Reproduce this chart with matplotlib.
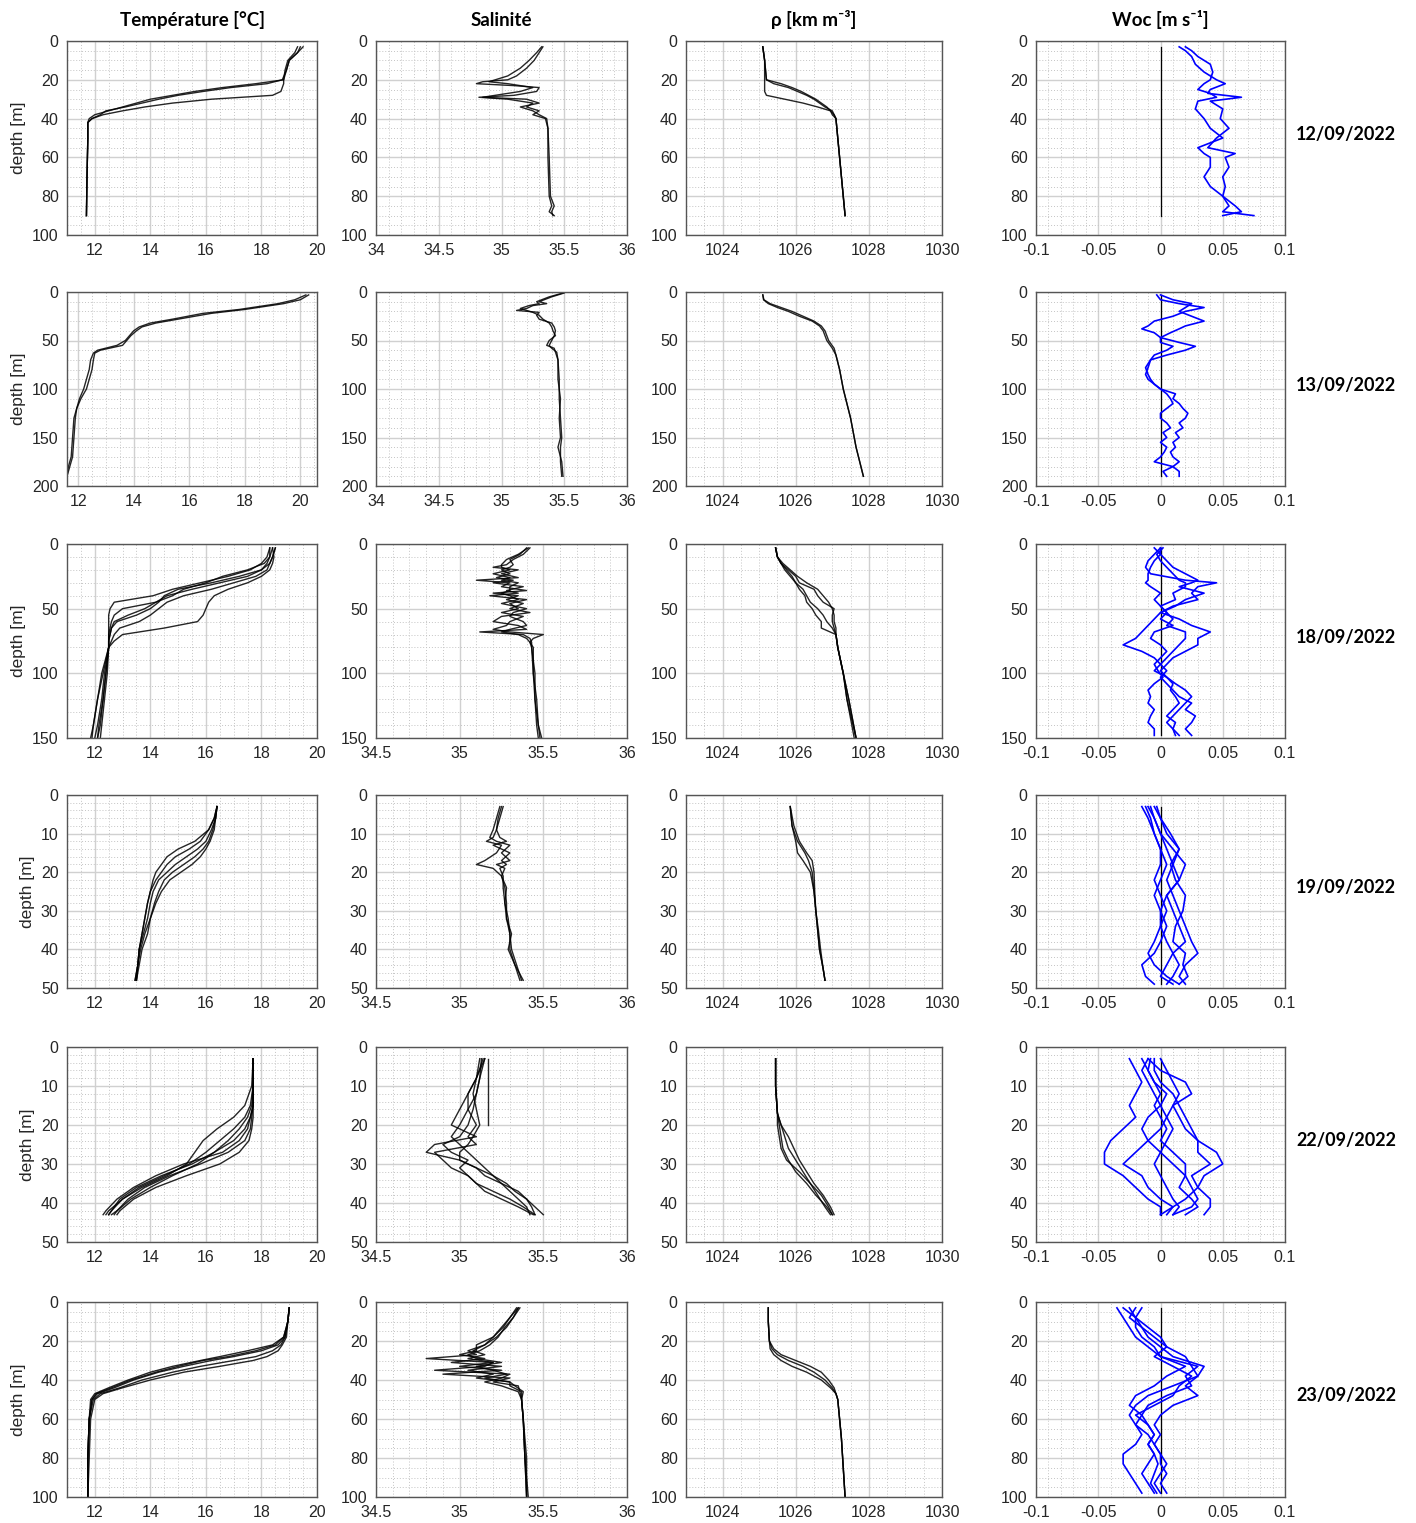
import numpy as np
import matplotlib.pyplot as plt
from matplotlib.ticker import MultipleLocator, FuncFormatter

nan = np.nan

DATES = ["12/09/2022", "13/09/2022", "18/09/2022", "19/09/2022", "22/09/2022", "23/09/2022"]
TITLES = ["Température [°C]", "Salinité", "ρ [km m⁻³]", "Woc [m s⁻¹]"]

# ---- 12/09/2022 ----
T_1209_DEPTH = [3, 6, 10, 15, 20, 22, 24, 26, 28, 30, 32, 34, 36, 38, 40, 42, 50, 70, 90]
T_1209 = [
    [19.4, 19.3, 19.0, 18.9, 18.8, 17.8, 16.6, 15.6, 14.8, 14.0, 13.5, 13.0, 12.5, 12.0, 11.8, 11.75, 11.75, 11.72, 11.7],
    [19.5, 19.3, 19.0, 18.9, 18.75, 18.2, 16.9, 15.9, 15.0, 14.3, 13.7, 13.1, 12.4, 12.2, 11.9, 11.75, 11.75, 11.72, 11.7],
    [19.3, 19.2, 18.95, 18.85, 18.8, 18.8, 18.75, 18.7, 18.4, 16.2, 14.8, 13.8, 13.0, 12.3, 11.9, 11.75, 11.75, 11.72, 11.7],
]
S_1209_DEPTH = [3, 6, 10, 14, 18, 20, 21, 22, 23, 24, 26, 28, 29, 30, 32, 34, 36, 38, 40, 45, 60, 80, 85, 88, 90]
S_1209 = [
    [35.33, 35.3, 35.26, 35.2, 35.12, 35.05, 34.85, 34.8, 35.1, 35.3, 35.28, 35.1, 34.82, 35.05, 35.25, 35.2, 35.3, 35.25, 35.35, 35.37, 35.37, 35.38, 35.4, 35.38, 35.42],
    [35.32, 35.28, 35.22, 35.15, 35.05, 34.95, 34.9, 35.05, 35.15, 35.25, 35.15, 34.95, 34.85, 35.2, 35.3, 35.15, 35.25, 35.3, 35.36, 35.37, 35.38, 35.39, 35.42, 35.4, 35.41],
]
R_1209_DEPTH = [3, 10, 20, 22, 24, 26, 28, 30, 32, 34, 36, 38, 40, 50, 70, 90]
R_1209 = [
    [1025.1, 1025.15, 1025.2, 1025.6, 1025.9, 1026.15, 1026.35, 1026.55, 1026.7, 1026.85, 1026.95, 1027.05, 1027.1, 1027.15, 1027.25, 1027.35],
    [1025.1, 1025.15, 1025.2, 1025.4, 1025.8, 1026.05, 1026.3, 1026.5, 1026.65, 1026.8, 1027.0, 1027.05, 1027.1, 1027.15, 1027.25, 1027.35],
    [1025.1, 1025.15, 1025.15, 1025.15, 1025.15, 1025.15, 1025.2, 1025.7, 1026.2, 1026.6, 1026.95, 1027.0, 1027.1, 1027.15, 1027.25, 1027.35],
]
W_1209_DEPTH = [3, 5, 8, 12, 16, 20, 22, 25, 27, 29, 31, 35, 40, 45, 50, 55, 58, 60, 65, 70, 75, 80, 85, 88, 90]
W_1209 = [
    [0.015, 0.02, 0.025, 0.028, 0.035, 0.045, 0.052, 0.04, 0.038, 0.065, 0.04, 0.05, 0.048, 0.055, 0.045, 0.038, 0.06, 0.052, 0.055, 0.05, 0.052, 0.05, 0.055, 0.05, 0.075],
    [0.02, 0.025, 0.03, 0.04, 0.042, 0.04, 0.035, 0.03, 0.04, 0.045, 0.03, 0.028, 0.035, 0.04, 0.05, 0.03, 0.035, 0.04, 0.04, 0.035, 0.04, 0.05, 0.06, 0.065, 0.05],
]

# ---- 13/09/2022 ----
T_1309_DEPTH = [3, 8, 12, 18, 22, 28, 32, 36, 40, 45, 50, 55, 60, 63, 70, 80, 90, 100, 110, 120, 130, 150, 170, 180, 190]
T_1309 = [
    [20.3, 20.0, 19.4, 18.0, 16.8, 15.6, 14.8, 14.3, 14.1, 13.9, 13.75, 13.6, 12.8, 12.6, 12.55, 12.5, 12.4, 12.3, 12.1, 11.95, 11.9, 11.85, 11.8, 11.7, 11.6],
    [20.2, 19.8, 19.2, 17.8, 16.5, 15.4, 14.6, 14.2, 14.0, 13.85, 13.7, 13.4, 12.7, 12.55, 12.45, 12.4, 12.3, 12.2, 12.05, 11.95, 11.85, 11.8, 11.75, 11.65, 11.6],
]
S_1309_DEPTH = [1, 5, 10, 12, 14, 17, 19, 21, 24, 28, 32, 36, 40, 45, 50, 55, 58, 62, 70, 90, 110, 130, 150, 160, 175, 190]
S_1309 = [
    [35.5, 35.4, 35.3, 35.36, 35.25, 35.2, 35.12, 35.3, 35.28, 35.3, 35.4, 35.42, 35.43, 35.42, 35.4, 35.38, 35.4, 35.44, 35.45, 35.45, 35.47, 35.46, 35.47, 35.45, 35.48, 35.49],
    [35.49, 35.38, 35.28, 35.3, 35.22, 35.15, 35.2, 35.25, 35.3, 35.33, 35.38, 35.4, 35.41, 35.43, 35.38, 35.36, 35.42, 35.43, 35.45, 35.46, 35.46, 35.47, 35.48, 35.47, 35.47, 35.48],
]
R_1309_DEPTH = [3, 8, 12, 16, 20, 25, 30, 35, 40, 50, 58, 65, 80, 100, 130, 160, 190]
R_1309 = [
    [1025.1, 1025.12, 1025.25, 1025.5, 1025.8, 1026.1, 1026.45, 1026.65, 1026.75, 1026.85, 1027.0, 1027.1, 1027.2, 1027.3, 1027.5, 1027.65, 1027.85],
    [1025.1, 1025.13, 1025.3, 1025.6, 1025.9, 1026.2, 1026.5, 1026.7, 1026.8, 1026.9, 1027.05, 1027.1, 1027.2, 1027.3, 1027.5, 1027.65, 1027.85],
]
W_1309_DEPTH = [3, 8, 12, 16, 20, 25, 30, 35, 38, 42, 47, 52, 56, 60, 65, 70, 78, 85, 90, 95, 100, 105, 110, 115, 120,
                125, 130, 135, 140, 145, 150, 155, 160, 165, 170, 175, 180, 185, 190]
W_1309 = [
    [-0.003, 0.0, 0.015, 0.035, 0.02, 0.01, -0.005, -0.01, -0.015, -0.005, 0.0, 0.015, 0.028, 0.02, 0.005, -0.008, -0.01, -0.012, -0.01, -0.005,
     0.0, 0.012, 0.01, 0.015, 0.018, 0.022, 0.02, 0.015, 0.018, 0.012, 0.015, 0.01, 0.012, 0.008, 0.01, 0.015, 0.01, 0.015, 0.015],
    [0.0, 0.01, 0.025, 0.02, 0.015, 0.025, 0.035, 0.02, 0.015, 0.008, 0.0, 0.0, 0.01, 0.005, -0.005, -0.008, -0.012, -0.01, -0.008, -0.005,
     0.0, 0.005, 0.008, 0.01, 0.005, 0.0, 0.0, 0.005, 0.008, 0.002, 0.005, 0.0, 0.005, 0.003, 0.0, -0.005, 0.01, 0.002, 0.005],
]

# ---- 18/09/2022 ----
T_1809_DEPTH = [3, 10, 15, 20, 25, 30, 35, 40, 45, 50, 55, 60, 65, 70, 75, 80, 100, 120, 140, 150]
T_1809 = [
    [18.3, 18.2, 18.0, 17.6, 16.8, 15.8, 14.8, 14.1, 12.7, 12.55, 12.5, 12.5, 12.5, 12.5, 12.5, 12.5, 12.35, 12.25, 12.1, 12.0],
    [18.4, 18.3, 18.1, 17.5, 16.6, 16.0, 15.2, 14.8, 14.2, 13.0, 12.7, 12.6, 12.55, 12.5, 12.5, 12.5, 12.4, 12.3, 12.2, 12.1],
    [18.5, 18.4, 18.3, 18.0, 17.2, 16.2, 15.0, 14.5, 14.3, 14.0, 13.5, 12.8, 12.6, 12.55, 12.5, 12.5, 12.45, 12.35, 12.25, 12.2],
    [18.5, 18.4, 18.3, 18.2, 17.8, 17.0, 16.2, 15.2, 14.6, 14.3, 14.0, 13.6, 12.9, 12.7, 12.6, 12.5, 12.3, 12.1, 11.95, 11.85],
    [18.4, 18.45, 18.4, 18.3, 18.0, 17.5, 16.8, 16.3, 16.1, 16.0, 15.9, 15.7, 14.5, 13.0, 12.7, 12.5, 12.25, 12.1, 11.95, 11.9],
    [18.3, 18.3, 18.2, 18.0, 17.5, 16.5, 15.5, 14.6, 14.2, 13.8, 13.2, 12.7, 12.6, 12.55, 12.5, 12.5, 12.4, 12.3, 12.15, 12.1],
]
S_1809_DEPTH = [3, 8, 12, 16, 18, 20, 23, 26, 28, 30, 33, 36, 38, 40, 43, 46, 50, 53, 56, 60, 63, 66, 68, 70, 73, 76, 80, 100, 120, 140, 150]
S_1809 = [
    [35.42, 35.38, 35.32, 35.28, 35.2, 35.35, 35.25, 35.35, 35.1, 35.3, 35.25, 35.4, 35.2, 35.35, 35.28, 35.38, 35.3, 35.42, 35.25, 35.2,
     35.35, 35.4, 35.12, 35.38, 35.42, 35.43, 35.43, 35.45, 35.45, 35.47, 35.49],
    [35.4, 35.36, 35.3, 35.32, 35.3, 35.25, 35.3, 35.22, 35.32, 35.2, 35.38, 35.28, 35.35, 35.18, 35.4, 35.3, 35.35, 35.25, 35.38, 35.3,
     35.28, 35.2, 35.3, 35.5, 35.44, 35.42, 35.44, 35.44, 35.46, 35.47, 35.48],
    [35.41, 35.35, 35.28, 35.25, 35.25, 35.3, 35.2, 35.3, 35.25, 35.35, 35.3, 35.3, 35.25, 35.3, 35.35, 35.25, 35.4, 35.32, 35.3, 35.38,
     35.4, 35.3, 35.25, 35.35, 35.4, 35.42, 35.43, 35.44, 35.45, 35.46, 35.47],
]
R_1809_DEPTH = [3, 10, 15, 20, 25, 30, 35, 40, 45, 50, 55, 60, 65, 70, 80, 100, 120, 150]
R_1809 = [
    [1025.45, 1025.5, 1025.6, 1025.75, 1025.9, 1026.0, 1026.2, 1026.3, 1026.4, 1026.6, 1026.75, 1026.85, 1027.0, 1027.1, 1027.15, 1027.3, 1027.4, 1027.65],
    [1025.45, 1025.5, 1025.65, 1025.85, 1026.05, 1026.3, 1026.6, 1026.75, 1026.9, 1027.0, 1027.05, 1027.05, 1027.1, 1027.1, 1027.15, 1027.3, 1027.45, 1027.65],
    [1025.45, 1025.5, 1025.6, 1025.7, 1025.85, 1026.0, 1026.1, 1026.25, 1026.3, 1026.45, 1026.55, 1026.7, 1026.7, 1027.1, 1027.15, 1027.3, 1027.4, 1027.6],
    [1025.45, 1025.5, 1025.6, 1025.8, 1026.0, 1026.1, 1026.5, 1026.6, 1026.75, 1027.05, 1027.0, 1027.0, 1027.05, 1027.1, 1027.15, 1027.3, 1027.45, 1027.65],
]
W_1809_DEPTH = [3, 8, 13, 18, 23, 28, 30, 33, 38, 43, 48, 53, 58, 63, 68, 73, 78, 83, 88, 93, 98, 103, 108, 113, 118, 123, 128, 133, 138, 143, 148]
W_1809 = [
    [0.0, -0.005, -0.01, -0.012, -0.008, 0.02, 0.045, 0.03, 0.025, 0.03, 0.01, 0.0, -0.005, -0.01, -0.015, -0.02, -0.03, -0.015, -0.005, 0.0,
     0.005, 0.0, 0.005, 0.01, 0.015, 0.025, 0.02, 0.028, 0.025, 0.02, 0.025],
    [-0.005, 0.0, 0.005, 0.01, 0.02, 0.03, 0.025, 0.015, 0.035, 0.02, 0.012, 0.0, 0.015, 0.025, 0.04, 0.03, 0.03, 0.02, 0.01, 0.005,
     0.0, 0.005, 0.01, 0.008, 0.012, 0.015, 0.01, 0.005, 0.012, 0.01, 0.015],
    [0.0, 0.0, -0.005, -0.008, -0.01, -0.01, -0.012, -0.008, 0.0, -0.005, 0.0, 0.005, 0.0, 0.01, -0.005, -0.008, 0.0, 0.005, 0.0, -0.005,
     -0.002, 0.002, -0.005, -0.01, -0.008, -0.01, -0.005, -0.008, -0.01, -0.005, -0.005],
    [0.002, -0.003, 0.0, 0.005, 0.01, 0.015, 0.02, 0.02, 0.01, 0.012, 0.0, 0.005, 0.01, 0.005, 0.02, 0.02, 0.015, 0.01, 0.005, 0.0,
     -0.005, 0.005, 0.012, 0.02, 0.025, 0.02, 0.015, 0.01, 0.005, 0.01, 0.012],
]

# ---- 19/09/2022 ----
T_1909_DEPTH = [3, 6, 9, 12, 14, 16, 18, 20, 22, 25, 28, 32, 36, 40, 44, 48]
T_1909 = [
    [16.4, 16.3, 16.1, 15.6, 15.0, 14.6, 14.4, 14.2, 14.1, 14.0, 13.9, 13.8, 13.7, 13.6, 13.55, 13.45],
    [16.4, 16.3, 16.1, 15.8, 15.4, 14.9, 14.6, 14.4, 14.2, 14.0, 13.9, 13.8, 13.7, 13.6, 13.55, 13.5],
    [16.4, 16.35, 16.2, 16.0, 15.7, 15.3, 14.9, 14.6, 14.3, 14.1, 14.0, 13.9, 13.75, 13.6, 13.55, 13.5],
    [16.4, 16.35, 16.25, 16.1, 15.9, 15.6, 15.2, 14.8, 14.5, 14.3, 14.15, 14.0, 13.9, 13.7, 13.6, 13.5],
    [16.4, 16.35, 16.3, 16.15, 16.0, 15.8, 15.5, 15.1, 14.7, 14.4, 14.2, 14.0, 13.8, 13.65, 13.55, 13.45],
]
S_1909_DEPTH = [3, 6, 9, 11, 12, 13, 15, 17, 18, 19, 21, 24, 28, 32, 36, 40, 44, 48]
S_1909 = [
    [35.25, 35.23, 35.22, 35.2, 35.16, 35.25, 35.22, 35.15, 35.1, 35.2, 35.25, 35.27, 35.28, 35.28, 35.3, 35.3, 35.33, 35.36],
    [35.26, 35.24, 35.22, 35.24, 35.28, 35.2, 35.3, 35.25, 35.28, 35.24, 35.26, 35.26, 35.27, 35.29, 35.3, 35.31, 35.34, 35.37],
    [35.24, 35.22, 35.2, 35.18, 35.22, 35.3, 35.25, 35.3, 35.22, 35.27, 35.25, 35.28, 35.27, 35.28, 35.31, 35.29, 35.33, 35.38],
]
R_1909_DEPTH = [3, 8, 12, 15, 17, 20, 25, 30, 35, 40, 45, 48]
R_1909 = [
    [1025.85, 1025.9, 1026.0, 1026.05, 1026.2, 1026.4, 1026.5, 1026.55, 1026.6, 1026.65, 1026.75, 1026.8],
    [1025.85, 1025.9, 1026.05, 1026.25, 1026.35, 1026.45, 1026.5, 1026.55, 1026.6, 1026.65, 1026.75, 1026.8],
    [1025.85, 1025.95, 1026.1, 1026.3, 1026.45, 1026.5, 1026.52, 1026.55, 1026.62, 1026.68, 1026.75, 1026.8],
]
W_1909_DEPTH = [3, 6, 10, 14, 18, 22, 26, 30, 34, 38, 41, 44, 47, 49]
W_1909 = [
    [-0.015, -0.01, -0.005, 0.0, 0.005, 0.0, -0.005, 0.0, 0.005, 0.0, -0.005, -0.015, -0.012, -0.005],
    [-0.008, -0.005, 0.0, 0.005, 0.01, 0.005, 0.01, 0.015, 0.02, 0.025, 0.03, 0.02, 0.015, 0.02],
    [-0.005, 0.0, 0.008, 0.015, 0.01, 0.015, 0.005, 0.01, 0.015, 0.02, 0.01, 0.015, 0.01, 0.005],
    [-0.01, -0.005, 0.0, 0.01, 0.02, 0.015, 0.005, 0.0, 0.0, 0.005, 0.01, 0.005, 0.0, 0.01],
    [-0.003, 0.0, 0.005, 0.015, 0.008, 0.012, 0.02, 0.018, 0.012, 0.01, 0.02, 0.018, 0.022, 0.015],
    [-0.012, -0.008, -0.005, 0.0, 0.0, -0.005, 0.0, 0.005, 0.0, -0.005, -0.01, -0.005, 0.005, 0.015],
]

# ---- 22/09/2022 ----
T_2209_DEPTH = [3, 10, 15, 18, 21, 24, 27, 30, 33, 36, 39, 42, 43]
T_2209 = [
    [17.7, 17.65, 17.4, 17.0, 16.4, 15.9, 15.6, 15.3, 14.6, 13.7, 13.0, 12.5, 12.4],
    [17.7, 17.7, 17.6, 17.4, 17.0, 16.5, 16.0, 15.4, 14.5, 13.6, 13.0, 12.6, 12.5],
    [17.7, 17.7, 17.7, 17.6, 17.4, 17.0, 16.3, 15.5, 14.4, 13.5, 12.9, 12.6, 12.5],
    [17.7, 17.7, 17.7, 17.65, 17.6, 17.4, 16.8, 15.8, 14.7, 13.8, 13.2, 12.8, 12.7],
    [17.7, 17.7, 17.7, 17.7, 17.65, 17.55, 17.2, 16.5, 15.3, 14.2, 13.4, 12.9, 12.8],
    [17.7, 17.7, 17.65, 17.5, 17.2, 16.8, 16.3, 15.7, 14.8, 14.0, 13.3, 12.8, 12.6],
    [17.7, 17.7, 17.7, 17.6, 17.5, 17.2, 16.6, 15.2, 14.2, 13.4, 12.8, 12.4, 12.3],
]
S_2209_DEPTH = [3, 8, 12, 16, 20, 23, 25, 27, 29, 31, 33, 35, 37, 39, 41, 43]
S_2209 = [
    [35.15, 35.1, 35.05, 35.0, 34.95, 35.1, 34.85, 34.8, 35.0, 35.1, 35.15, 35.25, 35.3, 35.35, 35.4, 35.42],
    [35.13, 35.12, 35.1, 35.08, 35.05, 35.0, 34.9, 34.95, 35.05, 35.0, 35.05, 35.1, 35.2, 35.3, 35.38, 35.45],
    [35.14, 35.1, 35.05, 35.05, 35.1, 35.05, 35.1, 34.85, 34.9, 34.95, 35.05, 35.1, 35.15, 35.25, 35.35, 35.44],
    [35.12, 35.1, 35.08, 35.1, 35.12, 35.08, 35.05, 35.0, 35.0, 35.1, 35.2, 35.28, 35.33, 35.4, 35.45, 35.5],
    [35.15, 35.12, 35.1, 35.05, 35.0, 34.95, 35.0, 35.05, 35.1, 35.15, 35.2, 35.25, 35.35, 35.4, 35.43, 35.45],
    [35.17, 35.17, 35.17, 35.17, 35.17, nan, nan, nan, nan, nan, nan, nan, nan, nan, nan, nan],
]
R_2209_DEPTH = [3, 10, 17, 20, 23, 26, 29, 32, 35, 38, 41, 43]
R_2209 = [
    [1025.45, 1025.45, 1025.5, 1025.6, 1025.7, 1025.8, 1026.0, 1026.2, 1026.4, 1026.7, 1026.9, 1027.0],
    [1025.45, 1025.45, 1025.5, 1025.55, 1025.6, 1025.65, 1025.8, 1026.0, 1026.3, 1026.55, 1026.85, 1027.0],
    [1025.45, 1025.45, 1025.5, 1025.6, 1025.8, 1025.95, 1026.1, 1026.3, 1026.5, 1026.75, 1026.95, 1027.05],
    [1025.45, 1025.45, 1025.5, 1025.5, 1025.55, 1025.6, 1025.75, 1026.1, 1026.4, 1026.6, 1026.8, 1026.95],
]
W_2209_DEPTH = [3, 6, 9, 12, 15, 18, 21, 24, 27, 30, 33, 36, 39, 41, 43]
W_2209 = [
    [-0.025, -0.02, -0.015, -0.02, -0.025, -0.02, -0.03, -0.04, -0.045, -0.045, -0.03, -0.02, -0.01, 0.0, 0.0],
    [-0.01, 0.0, 0.02, 0.025, 0.01, 0.015, 0.02, 0.03, 0.045, 0.05, 0.035, 0.03, 0.02, 0.01, 0.0],
    [-0.005, -0.005, 0.0, 0.01, 0.015, 0.02, 0.025, 0.03, 0.03, 0.04, 0.025, 0.03, 0.04, 0.04, 0.035],
    [-0.01, -0.015, -0.01, -0.005, 0.0, 0.005, 0.0, -0.01, -0.02, -0.03, -0.015, -0.01, 0.0, 0.01, 0.005],
    [-0.015, -0.01, -0.005, 0.0, -0.005, 0.0, 0.005, 0.0, 0.01, 0.02, 0.02, 0.015, 0.025, 0.03, 0.02],
    [0.0, 0.005, 0.01, 0.015, 0.01, 0.005, 0.01, 0.005, 0.0, 0.01, 0.02, 0.025, 0.03, 0.025, 0.01],
    [-0.008, -0.01, -0.005, 0.005, 0.0, -0.01, -0.015, -0.01, 0.0, -0.005, 0.0, 0.005, 0.01, 0.015, 0.01],
]

# ---- 23/09/2022 ----
T_2309_DEPTH = [3, 10, 18, 22, 25, 28, 30, 33, 36, 40, 44, 47, 50, 60, 80, 100]
T_2309 = [
    [19.0, 18.95, 18.8, 18.4, 17.5, 16.5, 15.8, 14.8, 14.0, 13.2, 12.5, 12.0, 11.85, 11.8, 11.75, 11.75],
    [19.0, 18.95, 18.85, 18.6, 18.0, 17.0, 16.2, 15.2, 14.3, 13.4, 12.7, 12.1, 11.9, 11.8, 11.75, 11.75],
    [19.0, 18.95, 18.85, 18.7, 18.4, 17.8, 17.0, 15.8, 14.8, 13.7, 12.9, 12.2, 11.95, 11.8, 11.75, 11.75],
    [19.0, 18.95, 18.9, 18.75, 18.6, 18.2, 17.7, 16.5, 15.2, 14.0, 13.0, 12.3, 12.0, 11.85, 11.8, 11.75],
    [19.0, 18.95, 18.8, 18.5, 17.8, 16.8, 15.9, 15.0, 14.2, 13.3, 12.6, 12.05, 11.9, 11.8, 11.75, 11.75],
]
S_2309_DEPTH = [3, 8, 13, 18, 22, 25, 27, 29, 31, 33, 35, 37, 39, 41, 43, 46, 50, 60, 80, 100]
S_2309 = [
    [35.36, 35.32, 35.28, 35.22, 35.15, 35.05, 35.1, 34.8, 35.2, 35.0, 35.25, 34.9, 35.3, 35.2, 35.35, 35.36, 35.37, 35.38, 35.39, 35.4],
    [35.35, 35.3, 35.25, 35.2, 35.1, 35.1, 35.0, 35.15, 34.95, 35.25, 35.05, 35.2, 35.1, 35.3, 35.3, 35.37, 35.37, 35.38, 35.39, 35.4],
    [35.34, 35.3, 35.26, 35.2, 35.15, 35.08, 35.15, 35.05, 35.2, 35.15, 34.85, 35.3, 35.25, 35.15, 35.25, 35.35, 35.37, 35.38, 35.39, 35.41],
    [35.35, 35.32, 35.27, 35.23, 35.18, 35.12, 35.05, 35.1, 35.25, 35.1, 35.2, 35.28, 35.15, 35.3, 35.33, 35.38, 35.37, 35.38, 35.4, 35.4],
]
R_2309_DEPTH = [3, 10, 20, 24, 27, 30, 33, 36, 40, 44, 47, 50, 70, 100]
R_2309 = [
    [1025.25, 1025.25, 1025.28, 1025.35, 1025.5, 1025.8, 1026.2, 1026.5, 1026.8, 1027.0, 1027.1, 1027.15, 1027.25, 1027.35],
    [1025.25, 1025.25, 1025.28, 1025.3, 1025.4, 1025.6, 1025.9, 1026.3, 1026.7, 1026.95, 1027.1, 1027.15, 1027.25, 1027.35],
    [1025.25, 1025.25, 1025.28, 1025.4, 1025.6, 1026.0, 1026.4, 1026.7, 1026.9, 1027.05, 1027.1, 1027.15, 1027.25, 1027.35],
]
W_2309_DEPTH = [3, 8, 13, 18, 23, 28, 33, 38, 43, 48, 53, 58, 63, 68, 73, 78, 83, 88, 93, 98]
W_2309 = [
    [-0.035, -0.03, -0.025, -0.02, -0.01, 0.0, 0.03, 0.02, 0.025, 0.005, -0.01, -0.015, -0.02, -0.015, -0.02, -0.03, -0.03, -0.025, -0.02, -0.015],
    [-0.02, -0.025, -0.015, -0.01, 0.0, 0.01, 0.035, 0.03, 0.02, 0.03, 0.01, 0.0, -0.005, 0.0, -0.005, 0.0, 0.005, 0.0, -0.005, 0.0],
    [-0.03, -0.02, -0.015, -0.005, 0.005, -0.005, 0.01, 0.025, 0.015, 0.01, -0.005, -0.02, -0.01, -0.005, -0.01, -0.005, -0.01, -0.015, -0.01, -0.005],
    [-0.025, -0.02, -0.01, 0.0, 0.005, 0.02, 0.025, 0.03, 0.01, -0.01, -0.02, -0.025, -0.02, -0.01, -0.005, 0.0, 0.0, 0.005, 0.0, 0.005],
    [-0.015, -0.02, -0.02, -0.015, -0.005, 0.0, 0.02, 0.005, -0.005, -0.02, -0.025, -0.015, -0.01, -0.005, -0.01, -0.005, -0.002, -0.005, -0.008, -0.003],
]

# depth axis per row: (max depth, major step, minor step)
DEPTH_AXES = [(100, 20, 5), (200, 50, 10), (150, 50, 10), (50, 10, 2), (50, 10, 2), (100, 20, 5)]
T_XLIM = [(11, 20), (11.6, 20.6), (11, 20), (11, 20), (11, 20), (11, 20)]
S_XLIM = [(34, 36), (34, 36), (34.5, 36), (34.5, 36), (34.5, 36), (34.5, 36)]
R_XLIM = (1023, 1030)
W_XLIM = (-0.1, 0.1)

PANELS = [
    [(T_1209_DEPTH, T_1209), (S_1209_DEPTH, S_1209), (R_1209_DEPTH, R_1209), (W_1209_DEPTH, W_1209)],
    [(T_1309_DEPTH, T_1309), (S_1309_DEPTH, S_1309), (R_1309_DEPTH, R_1309), (W_1309_DEPTH, W_1309)],
    [(T_1809_DEPTH, T_1809), (S_1809_DEPTH, S_1809), (R_1809_DEPTH, R_1809), (W_1809_DEPTH, W_1809)],
    [(T_1909_DEPTH, T_1909), (S_1909_DEPTH, S_1909), (R_1909_DEPTH, R_1909), (W_1909_DEPTH, W_1909)],
    [(T_2209_DEPTH, T_2209), (S_2209_DEPTH, S_2209), (R_2209_DEPTH, R_2209), (W_2209_DEPTH, W_2209)],
    [(T_2309_DEPTH, T_2309), (S_2309_DEPTH, S_2309), (R_2309_DEPTH, R_2309), (W_2309_DEPTH, W_2309)],
]

# layout in pixels
W, H = 1416, 1523
COL_X = [(67, 317), (376, 627), (686, 942), (1036, 1285)]
ROW_Y = [(41, 235), (292, 486), (544, 738), (795, 988), (1047, 1242), (1302, 1497)]

TICK_FONT = "Liberation Sans"
BOLD_FONT = ["Lato", "DejaVu Sans"]
GFMT = FuncFormatter(lambda v, p: "%g" % round(v, 6))


def style_axis(ax, xlim, xmajor, xminor, dmax, dmajor, dminor):
    ax.set_xlim(*xlim)
    ax.set_ylim(dmax, 0)
    ax.xaxis.set_major_locator(MultipleLocator(xmajor))
    ax.xaxis.set_minor_locator(MultipleLocator(xminor))
    ax.yaxis.set_major_locator(MultipleLocator(dmajor))
    ax.yaxis.set_minor_locator(MultipleLocator(dminor))
    ax.xaxis.set_major_formatter(GFMT)
    ax.yaxis.set_major_formatter(GFMT)
    ax.set_axisbelow(True)
    ax.grid(which="major", color="#d0d0d0", linewidth=1.0, linestyle="-")
    ax.grid(which="minor", color="#c4c4c4", linewidth=0.7, linestyle=(0, (1, 2)))
    ax.tick_params(which="both", direction="in", length=0, pad=6,
                   labelsize=11.5, labelcolor="#262626")
    for lab in ax.get_xticklabels() + ax.get_yticklabels():
        lab.set_fontfamily(TICK_FONT)
    for sp in ax.spines.values():
        sp.set_color("#555555")
        sp.set_linewidth(1.0)


fig = plt.figure(figsize=(W / 100, H / 100), dpi=100)

for r in range(6):
    dmax, dmajor, dminor = DEPTH_AXES[r]
    y0, y1 = ROW_Y[r]
    for c in range(4):
        x0, x1 = COL_X[c]
        ax = fig.add_axes([x0 / W, 1 - y1 / H, (x1 - x0) / W, (y1 - y0) / H])
        depth, casts = PANELS[r][c]
        if c == 0:
            xlim, xmaj, xmin = T_XLIM[r], 2, 0.5
        elif c == 1:
            xlim, xmaj, xmin = S_XLIM[r], 0.5, 0.1
        elif c == 2:
            xlim, xmaj, xmin = R_XLIM, 2, 0.5
        else:
            xlim, xmaj, xmin = W_XLIM, 0.05, 0.01
        style_axis(ax, xlim, xmaj, xmin, dmax, dmajor, dminor)

        if c == 3:
            ax.plot([0, 0], [min(depth), max(depth)], color="black", linewidth=0.9)
            for cast in casts:
                ax.plot(cast, depth, color="#0000ff", linewidth=1.2)
            ax.text(1.245, 0.52, DATES[r], transform=ax.transAxes, ha="center", va="center",
                    fontsize=13, fontweight="bold", family=BOLD_FONT)
        else:
            for cast in casts:
                ax.plot(cast, depth, color="black", linewidth=1.0, alpha=0.85)

        if c == 0:
            ax.set_ylabel("depth [m]", fontsize=12.5, family=TICK_FONT, color="#262626", labelpad=4)
        if r == 0:
            ax.set_title(TITLES[c], fontsize=13.5, fontweight="bold", family=BOLD_FONT, pad=11)

fig.savefig("out.png", dpi=100)
